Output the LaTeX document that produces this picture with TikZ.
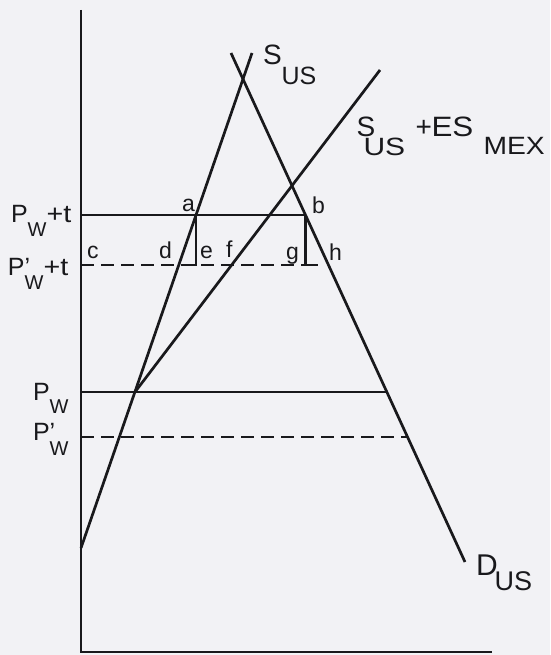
\documentclass[tikz,border=0pt]{standalone}
\usepackage{fontspec}
\setmainfont{Liberation Sans}
\newcommand\fsz[1]{\fontsize{#1}{#1}\selectfont}
\newcommand\at[2]{\rlap{\hspace{#1}#2}}
\definecolor{bg}{RGB}{242,242,245}
\definecolor{ink}{RGB}{25,25,28}
\begin{document}
\begin{tikzpicture}[x=1pt,y=-1pt,line width=2.7pt,draw=ink,text=ink,
  curve/.style={line cap=butt},
  dashline/.style={line width=2.4pt,dash pattern=on 13pt off 7pt},
  lbl/.style={anchor=base west,inner sep=0pt,outer sep=0pt},
  pt/.style={lbl,font=\fsz{23}}]
\useasboundingbox[fill=bg] (0,0) rectangle (550,655);
% coordinates
\coordinate (ytop) at (81,10);
\coordinate (O) at (81,652);
\coordinate (xend) at (492,652);
\coordinate (s0) at (81,548);
\coordinate (s1) at (252,53);
\coordinate (d0) at (231,53);
\coordinate (d1) at (465,562);
\coordinate (E) at (135,392);
\coordinate (se1) at (380,70);
\coordinate (pa) at (196,215);
\coordinate (pb) at (305.5,215);
\coordinate (pwt) at (81,215);
\coordinate (pwpt) at (81,265);
\coordinate (a1) at (196,265);
\coordinate (a0) at (185,265);
\coordinate (b1) at (305.5,265);
\coordinate (b2) at (318,265);
\coordinate (pw) at (81,392);
\coordinate (pwend) at (387,392);
\coordinate (pwp) at (81,437);
\coordinate (pwpend) at (407,437);
% axes
\draw[line join=miter] (ytop) -- (O) -- (xend);
% curves
\draw[curve] (s0) -- (s1);
\draw[curve] (d0) -- (d1);
\draw[curve] (E) -- (se1);
% price lines
\draw (pwt) -- (pb);
\draw[dashline] (pwpt) -- (b1);
\draw (pa) -- (a1) -- (a0);
\draw (pb) -- (b1) -- (b2);
\draw (pw) -- (pwend);
\draw[dashline] (pwp) -- (pwpend);
% axis labels
\node[lbl] (lpwt) at (11,222) {\fsz{25}P\raisebox{-14pt}{\fsz{20}W}\scalebox{1.15}[1]{+t}};
\node[lbl] (lpwpt) at (8,275) {\fsz{25}P\rlap{'}\raisebox{-14pt}{\fsz{20}W}\scalebox{1.15}[1]{+t}};
\node[lbl] (lpw) at (33,400) {\fsz{25}P\raisebox{-13pt}{\fsz{20}W}};
\node[lbl] (lpwp) at (33,440) {\fsz{25}P\rlap{'}\raisebox{-15pt}{\fsz{20}W}};
% point labels
\node[pt] (la) at (182,211) {a};
\node[pt] (lb) at (312,213) {b};
\node[pt] (lc) at (87,258) {c};
\node[pt] (ld) at (159,258) {d};
\node[pt] (le) at (200,258) {e};
\node[pt] (lf) at (226,257) {f};
\node[pt] (lg) at (286,259) {g};
\node[pt] (lh) at (329,260) {h};
% curve labels
\node[lbl] (lsus) at (263,65) {\fsz{28}S\raisebox{-20pt}{\fsz{25}US}};
\node[lbl] (lses) at (356,137) {\fsz{28}\at{0pt}{S}\at{7pt}{\raisebox{-19pt}{\fsz{25}\scalebox{1.2}[1]{US}}}\at{59pt}{+}\at{75pt}{\scalebox{1.12}[1]{ES}}\at{127pt}{\raisebox{-18pt}{\fsz{25}\scalebox{1.13}[1]{MEX}}}};
\node[lbl] (ldus) at (476,575) {\fsz{30}D\hspace{-3pt}\raisebox{-15pt}{\fsz{27}US}};
\end{tikzpicture}
\end{document}
